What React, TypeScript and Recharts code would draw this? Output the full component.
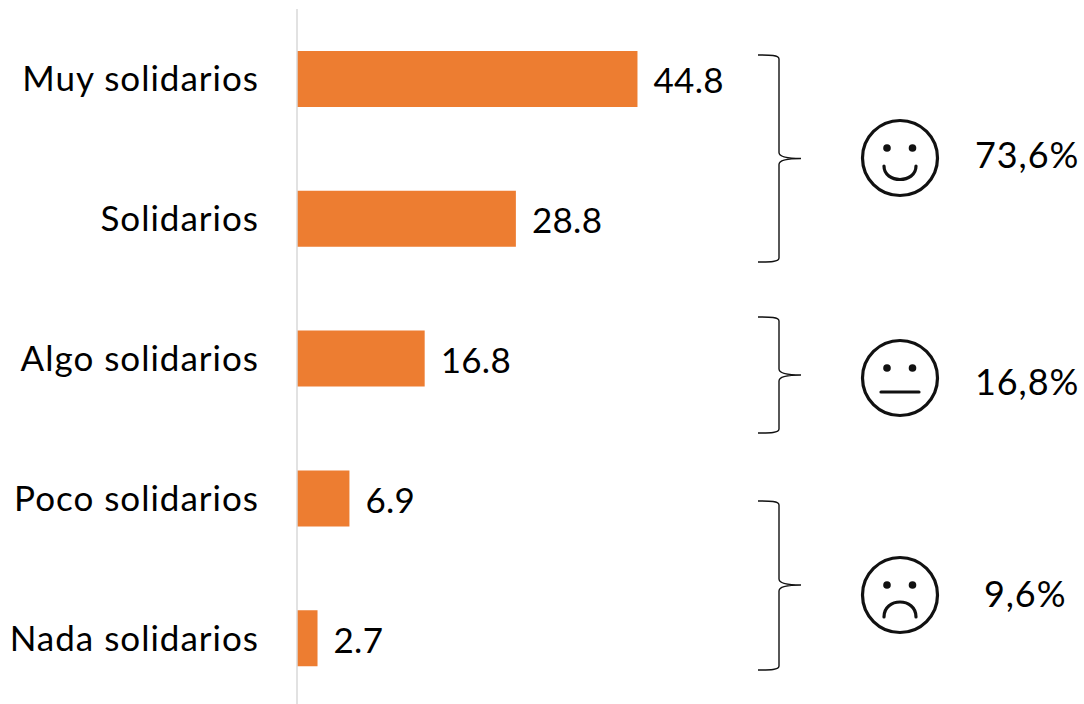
import React from 'react';
import { BarChart, Bar, XAxis, YAxis, LabelList } from 'recharts';

const categories = ['Muy solidarios', 'Solidarios', 'Algo solidarios', 'Poco solidarios', 'Nada solidarios'];
const values = [44.8, 28.8, 16.8, 6.9, 2.7];
const groupLabels = ['73,6%', '16,8%', '9,6%'];

const data = categories.map((name, i) => ({ name, value: values[i] }));

const FONT = 'Lato, "Open Sans", sans-serif';

const bracePath = (top: number, tip: number, bottom: number) =>
  `M758 ${top} C770 ${top} 779 ${top} 779 ${top + 4} L779 ${tip - 6} C779 ${tip - 2} 785 ${tip} 801 ${tip} ` +
  `C785 ${tip} 779 ${tip + 2} 779 ${tip + 6} L779 ${bottom - 4} C779 ${bottom} 770 ${bottom} 758 ${bottom}`;

const Face = ({ cy, mouth }: { cy: number; mouth: string }) => (
  <g transform={`translate(900 ${cy})`} fill="none" stroke="#111" strokeWidth={3.2}>
    <circle r={37.5} />
    <circle cx={-13} cy={-10} r={3.8} fill="#111" stroke="none" />
    <circle cx={12.5} cy={-10} r={3.8} fill="#111" stroke="none" />
    <path d={mouth} strokeLinecap="round" />
  </g>
);

const Overlay = () => (
  <svg width={1084} height={704} style={{ position: 'absolute', left: 0, top: 0 }}>
    <g fill="none" stroke="#111" strokeWidth={1.4}>
      <path d={bracePath(55, 158.5, 262)} />
      <path d={bracePath(317, 375, 433)} />
      <path d={bracePath(501, 585, 670)} />
    </g>
    <Face cy={158} mouth="M-16 8 C-16 26 16 26 16 8" />
    <Face cy={378} mouth="M-19 14 L19 14" />
    <Face cy={595} mouth="M-16 22 C-16 2 16 2 16 22" />
    <g fontFamily={FONT} fontSize={36} letterSpacing={0.9} fill="#000">
      <text x={975} y={168}>{groupLabels[0]}</text>
      <text x={975} y={394.5}>{groupLabels[1]}</text>
      <text x={984} y={607}>{groupLabels[2]}</text>
    </g>
  </svg>
);

export default function App() {
  return (
    <div style={{ position: 'absolute', left: 0, top: 0, width: 1084, height: 704, overflow: 'hidden', background: '#fff' }}>
      <BarChart
        width={1084}
        height={720}
        data={data}
        layout="vertical"
        margin={{ top: 9, right: 331, bottom: 12, left: 0 }}
      >
        <XAxis type="number" domain={[0, 60]} hide />
        <YAxis
          type="category"
          dataKey="name"
          width={297}
          tickLine={false}
          tickMargin={32}
          axisLine={{ stroke: '#d9d9d9', strokeWidth: 1.5 }}
          tick={{ fill: '#000', fontSize: 35, fontFamily: FONT, letterSpacing: 1, dy: 0 }}
          interval={0}
        />
        <Bar dataKey="value" fill="#ed7d31" barSize={56} isAnimationActive={false}>
          <LabelList
            dataKey="value"
            position="right"
            offset={16}
            fill="#000"
            fontSize={35}
            fontFamily={FONT}
            letterSpacing={0.3}
            dy={2}
            formatter={(v: number) => v.toFixed(1)}
          />
        </Bar>
      </BarChart>
      <Overlay />
    </div>
  );
}
